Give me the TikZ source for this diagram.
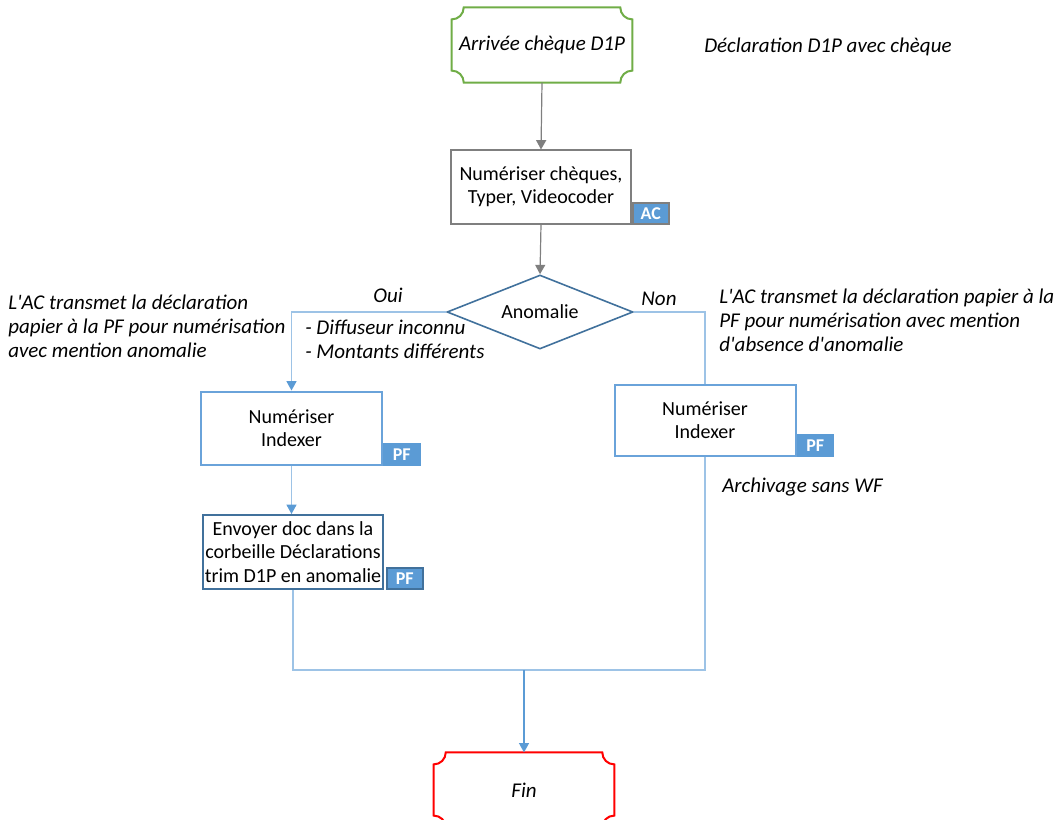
\documentclass[tikz,border=0pt]{standalone}
\usepackage{fontspec}
\setmainfont{Carlito}[Ligatures=TeXOff]
\usetikzlibrary{shapes.geometric,arrows.meta,calc}

\definecolor{greyline}{HTML}{7F7F7F}
\definecolor{tagblue}{HTML}{5B9BD5}
\definecolor{darkblue}{HTML}{41719C}
\definecolor{paleblue}{HTML}{9DC3E6}
\definecolor{midblue}{HTML}{6AA3DA}
\definecolor{startgreen}{HTML}{70AD47}
\definecolor{endred}{HTML}{FF0000}

% outline with concave quarter-circle corners drawn around a named node
\newcommand\plaqueoutline[2]{%
  \draw[#2] ([xshift=9pt]#1.north west) -- ([xshift=-9pt]#1.north east)
    .. controls ([xshift=-9pt,yshift=-5pt]#1.north east) and ([xshift=-5pt,yshift=-9pt]#1.north east) .. ([yshift=-9pt]#1.north east)
    -- ([yshift=9pt]#1.south east)
    .. controls ([xshift=-5pt,yshift=9pt]#1.south east) and ([xshift=-9pt,yshift=5pt]#1.south east) .. ([xshift=-9pt]#1.south east)
    -- ([xshift=9pt]#1.south west)
    .. controls ([xshift=9pt,yshift=5pt]#1.south west) and ([xshift=5pt,yshift=9pt]#1.south west) .. ([yshift=9pt]#1.south west)
    -- ([yshift=-9pt]#1.north west)
    .. controls ([xshift=5pt,yshift=-9pt]#1.north west) and ([xshift=9pt,yshift=-5pt]#1.north west) .. cycle;}

\tikzset{
  procbox/.style={draw, line width=1.5pt, fill=white, align=center, inner sep=0pt},
  terminal/.style={align=center, inner sep=0pt, minimum width=135pt, minimum height=56pt,
    font=\fontsize{15.75}{18}\selectfont\itshape},
  tagbox/.style={draw, fill=tagblue, text=white, line width=1.2pt, inner sep=0pt,
    minimum width=27pt, minimum height=15.75pt, anchor=south west,
    font=\fontsize{13.5}{15}\selectfont\bfseries},
  remark/.style={align=left, inner sep=0pt, font=\fontsize{15.75}{18}\selectfont\itshape},
  conn/.style={line width=0.9pt},
  tip/.style={-{Triangle[width=7.5pt,length=7pt]}},
  bluetip/.style={-{Triangle[width=7.5pt,length=7pt,color=tagblue]}},
  plaqueline/.style={line width=1.5pt}
}

\begin{document}
\begin{tikzpicture}[x=0.75pt,y=-0.75pt]
\fontsize{15}{17.5}\selectfont
\useasboundingbox (0,0) rectangle (1056,820);
\clip (0,0) rectangle (1056,820);

% start and end terminals
\node[terminal] (start) at (542,45) {Arrivée chèque D1P};
\plaqueoutline{start}{startgreen, plaqueline}
\node[remark, anchor=west] (title) at (704,47) {Déclaration D1P avec chèque};

\node[terminal] (fin) at (524,790) {Fin};
\plaqueoutline{fin}{endred, plaqueline}

% scanning by AC
\node[procbox, draw=greyline, minimum width=135pt, minimum height=54.75pt] (scan) at (541,187)
  {Numériser chèques,\\Typer, Videocoder};
\node[tagbox, draw=greyline] (tagac) at (scan.south east) {AC};

% decision
\node[draw=darkblue, line width=1.2pt, diamond, aspect=2.5, inner sep=0pt,
  minimum width=139.5pt, minimum height=55.5pt] (dec) at (540,312) {Anomalie};

% left branch
\node[procbox, draw=midblue, minimum width=135.75pt, minimum height=54.75pt] (idxl) at (291.5,428)
  {Numériser\\Indexer};
\node[tagbox, draw=tagblue] (tagpfl) at (idxl.south east) {PF};

\node[procbox, draw=darkblue, minimum width=135pt, minimum height=55.5pt] (send) at (293,552)
  {Envoyer doc dans la\\corbeille Déclarations\\trim D1P en anomalie};
\node[tagbox, draw=darkblue] (tagpfs) at ([xshift=1.5pt]send.south east) {PF};

% right branch
\node[procbox, draw=midblue, minimum width=135.75pt, minimum height=53.25pt] (idxr) at (705,420)
  {Numériser\\Indexer};
\node[tagbox, draw=tagblue] (tagpfr) at (idxr.south east) {PF};

% texts
\node[remark, anchor=north west] (leftnote) at (8,295)
  {L'AC transmet la déclaration\\papier à la PF pour numérisation\\avec mention anomalie};
\node[remark, anchor=north west] (rightnote) at (719,289)
  {L'AC transmet la déclaration papier à la\\PF pour numérisation avec mention\\d'absence d'anomalie};
\node[remark] (oui) at (388,295) {Oui};
\node[remark] (non) at (659,299) {Non};
\node[remark, anchor=north west] (causes) at (305,320)
  {- Diffuseur inconnu\\- Montants différents};
\node[remark, anchor=west] (archive) at (722,487) {Archivage sans WF};

% connectors
\draw[conn, greyline, tip] (start.south) -- (scan.north);
\draw[conn, greyline, tip] (scan.south) -- (dec.north);
\draw[conn, paleblue, bluetip] (dec.west) -| (idxl.north);
\draw[conn, paleblue] (dec.east) -| (idxr.north);
\draw[conn, paleblue, bluetip] (idxl.south) -- (idxl.south |- send.north);
\coordinate (merge) at (524,670);
\draw[conn, paleblue] (send.south) |- (merge);
\draw[conn, paleblue] (idxr.south) |- (merge);
\draw[conn, tagblue, tip] (merge) -- (fin.north);
\end{tikzpicture}
\end{document}
